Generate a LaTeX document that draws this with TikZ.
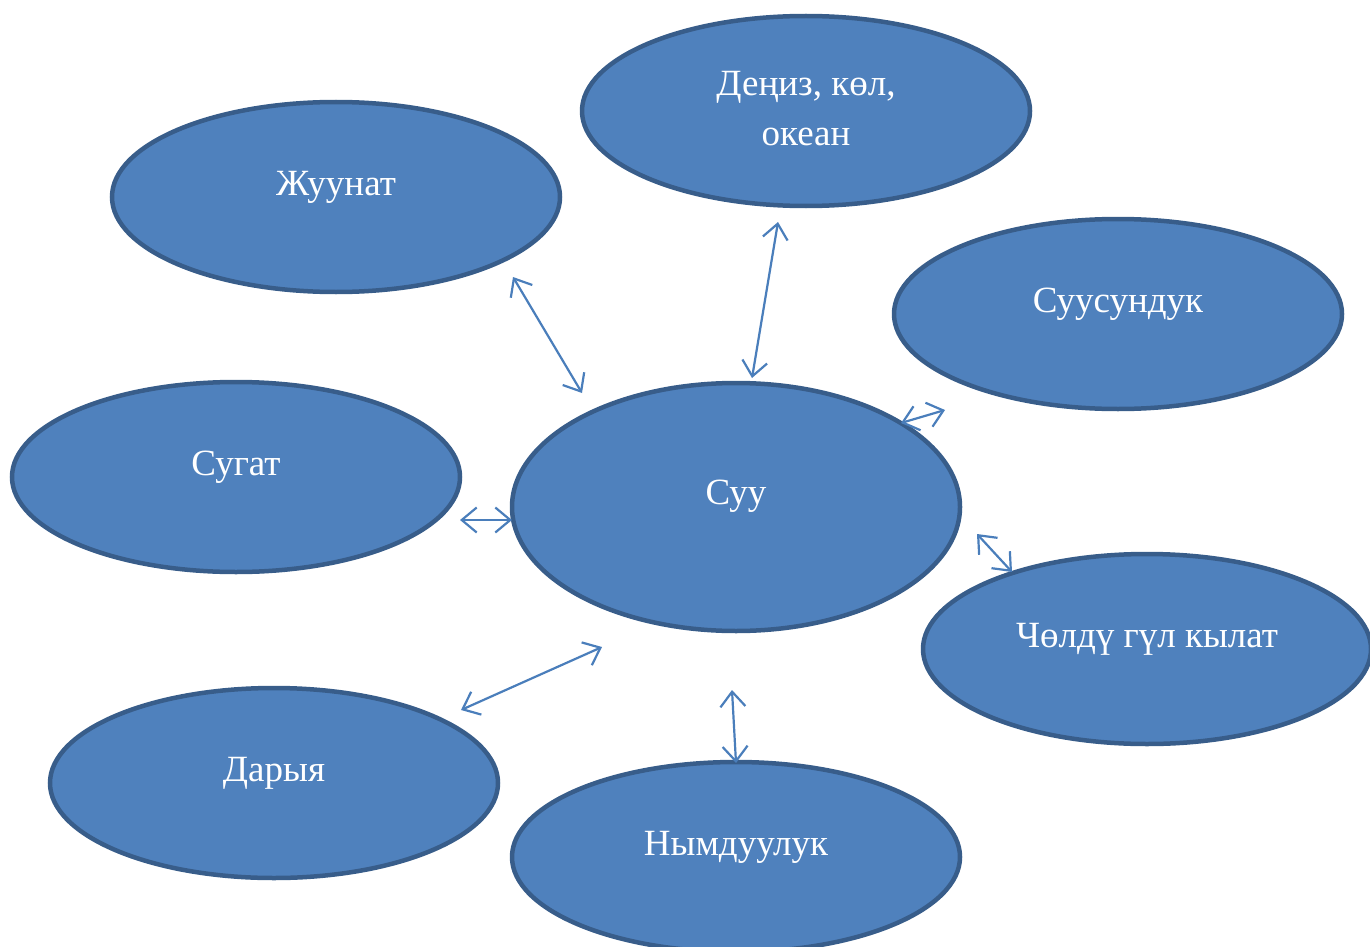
\documentclass[tikz,border=0pt]{standalone}
\usepackage{fontspec}
\setmainfont{Liberation Serif}
\usetikzlibrary{shapes.geometric,arrows.meta}
\definecolor{fillblue}{HTML}{4F81BD}
\definecolor{edgeblue}{HTML}{385D8A}
\definecolor{arrowblue}{HTML}{4A7EBB}
\tikzset{
  blob/.style={ellipse, fill=fillblue, draw=edgeblue, line width=4.5pt, inner sep=0pt,
    minimum width=448pt, minimum height=190pt},
  label text/.style={text=white, font=\fontsize{37}{50}\selectfont, align=center, inner sep=0pt},
  link/.style={draw=arrowblue, line width=2.2pt,
    {Straight Barb[length=15pt,width=25pt,line width=2.2pt]}-{Straight Barb[length=15pt,width=25pt,line width=2.2pt]}}
}
\begin{document}
\begin{tikzpicture}[x=1pt,y=-1pt]
\useasboundingbox (0,0) rectangle (1370,947);
% ellipses
\node[blob] (zh) at (336,197) {};
\node[blob] (den) at (806,111) {};
\node[blob] (suus) at (1118,314) {};
\node[blob] (sug) at (236,477) {};
\node[blob, minimum height=248pt] (suu) at (736,507) {};
\node[blob] (chol) at (1147,649) {};
\node[blob] (dar) at (274,783) {};
\node[blob] (nym) at (736,857) {};
% texts
\node[label text] (tzh) at (336,187) {Жуунат};
\node[label text] (tden) at (806,109) {Деңиз, көл,\\океан};
\node[label text] (tsuus) at (1118,304) {Суусундук};
\node[label text] (tsug) at (236,467) {Сугат};
\node[label text] (tsuu) at (736,496) {Суу};
\node[label text] (tchol) at (1147,639) {Чөлдү гүл кылат};
\node[label text] (tdar) at (274,773) {Дарыя};
\node[label text] (tnym) at (736,847) {Нымдуулук};
% connector end points
\coordinate (a1) at (513,277); \coordinate (b1) at (582,393);
\coordinate (a2) at (778,222); \coordinate (b2) at (752,378);
\coordinate (a3) at (945,410); \coordinate (b3) at (901,423);
\coordinate (a4) at (460,520); \coordinate (b4) at (512,520);
\coordinate (a5) at (977,534); \coordinate (b5) at (1012,572);
\coordinate (a6) at (461,710); \coordinate (b6) at (602,647);
\coordinate (a7) at (732,690); \coordinate (b7) at (736,763);
\draw[link] (a1) -- (b1);
\draw[link] (a2) -- (b2);
\draw[link] (a3) -- (b3);
\draw[link] (a4) -- (b4);
\draw[link] (a5) -- (b5);
\draw[link] (a6) -- (b6);
\draw[link] (a7) -- (b7);
\end{tikzpicture}
\end{document}
